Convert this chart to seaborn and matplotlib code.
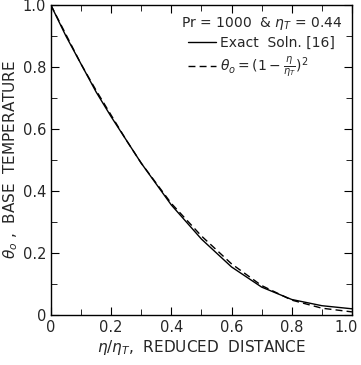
import numpy as np
import pandas as pd
import matplotlib
matplotlib.use('Agg')
import matplotlib.pyplot as plt
import matplotlib.transforms as mtransforms
import seaborn as sns

# values
eta = [0.0, 0.05, 0.1, 0.15, 0.2, 0.25, 0.3, 0.4, 0.5, 0.6, 0.7, 0.8, 0.9, 1.0]
theta_exact = [1.0, 0.90, 0.81, 0.72, 0.64, 0.565, 0.49, 0.355, 0.245, 0.155, 0.09, 0.05, 0.03, 0.02]
theta_approx = [1.0, 0.905, 0.81, 0.725, 0.645, 0.565, 0.49, 0.36, 0.255, 0.165, 0.095, 0.048, 0.022, 0.01]
tick_vals = [0, 0.2, 0.4, 0.6, 0.8, 1.0]
tick_labels = ['0', '0.2', '0.4', '0.6', '0.8', '1.0']

lbl_exact = 'Exact  Soln. [16]'
lbl_approx = r'$\theta_o = (1-\frac{\eta}{\eta_T})^2$'

df = pd.DataFrame({
    'eta': eta + eta,
    'theta': theta_exact + theta_approx,
    'curve': [lbl_exact] * len(eta) + [lbl_approx] * len(eta),
})

sns.set_style('ticks')
plt.rcParams['font.family'] = ['DejaVu Sans']
plt.rcParams['mathtext.fontset'] = 'dejavusans'

fig = plt.figure(figsize=(3.61, 3.65), dpi=100)
ax = fig.add_axes([0.141, 0.137, 0.834, 0.849])

sns.lineplot(data=df, x='eta', y='theta', hue='curve', style='curve',
             palette=['black', 'black'], dashes=[(None, None), (5, 3)],
             linewidth=1.0, ax=ax)

ax.set_xlim(0, 1.0)
ax.set_ylim(0, 1.0)
ax.set_xticks(tick_vals)
ax.set_xticklabels(tick_labels)
ax.set_yticks(tick_vals)
ax.set_yticklabels(tick_labels)
ax.set_xticks(np.arange(0.1, 1.0, 0.2), minor=True)
ax.set_yticks(np.arange(0.1, 1.0, 0.2), minor=True)
ax.tick_params(which='both', direction='in', top=True, right=True,
               labelsize=10.5, color='black')
ax.tick_params(which='major', length=6)
ax.tick_params(which='minor', length=4)
for s in ax.spines.values():
    s.set_visible(True)
    s.set_linewidth(1.0)
    s.set_color('black')

# keep the last x label inside the figure
last = ax.get_xticklabels()[-1]
last.set_transform(last.get_transform() +
                   mtransforms.ScaledTranslation(-4 / 72, 0, fig.dpi_scale_trans))

ax.set_xlabel(r'$\eta/\eta_T$,  REDUCED  DISTANCE', fontsize=11, labelpad=2)
ax.set_ylabel(r'$\theta_o$ ,  BASE  TEMPERATURE', fontsize=11, labelpad=2)

leg = ax.legend(title=r'Pr = 1000  & $\eta_T$ = 0.44', frameon=False,
                loc='upper right', fontsize=10, title_fontsize=10,
                handlelength=2.0, handletextpad=0.3, borderaxespad=0.3,
                labelspacing=0.3)

fig.savefig('out.png', dpi=100)
